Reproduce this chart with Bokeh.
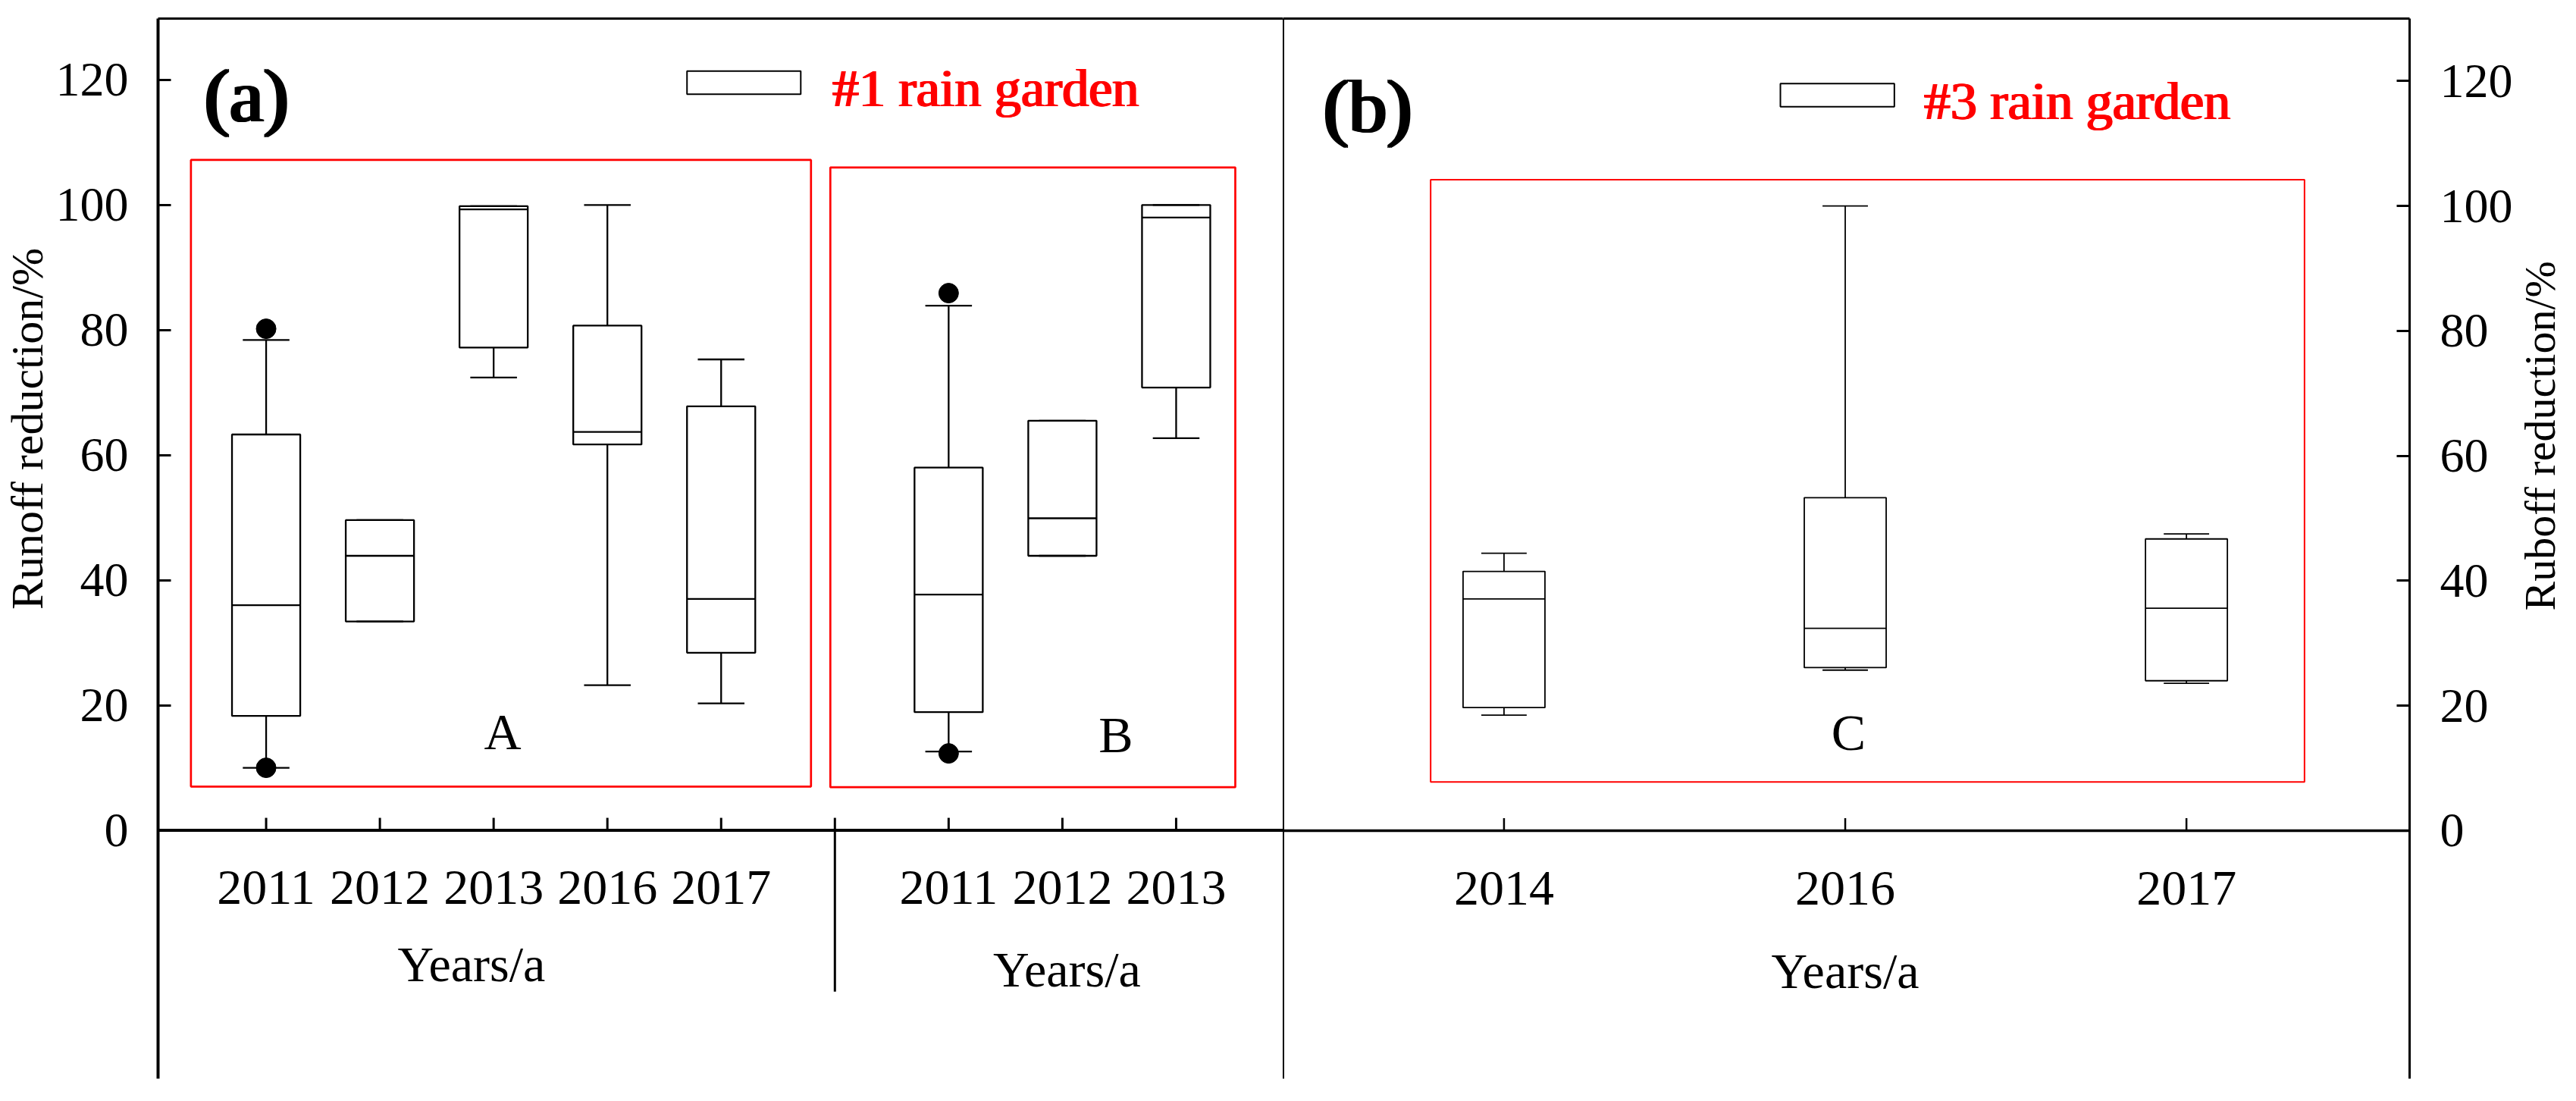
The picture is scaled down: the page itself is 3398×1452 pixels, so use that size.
import math
from bokeh.plotting import figure
from bokeh.layouts import row
from bokeh.models import LinearAxis, FixedTicker, Range1d, Span
from bokeh.core.properties import value
from bokeh.embed import file_html
from bokeh.resources import INLINE

SERIF = "Liberation Serif"

# ---------------- data ----------------
years_A = ["2011", "2012", "2013", "2016", "2017"]
pos_A = [1, 2, 3, 4, 5]
lowA = [10.0, 33.4, 72.4, 23.2, 20.3]
q1A = [18.3, 33.4, 77.2, 61.7, 28.4]
medA = [36.0, 43.9, 99.3, 63.7, 37.0]
q3A = [63.3, 49.6, 99.8, 80.7, 67.8]
upA = [78.4, 49.6, 99.8, 100.0, 75.3]
outA_x = [1, 1]
outA_y = [80.2, 10.0]

years_B = ["2011", "2012", "2013"]
pos_B = [7, 8, 9]
lowB = [12.6, 43.9, 62.7]
q1B = [18.9, 43.9, 70.8]
medB = [37.7, 49.9, 98.0]
q3B = [58.0, 65.5, 100.0]
upB = [83.9, 65.5, 100.0]
outB_x = [7, 7]
outB_y = [85.9, 12.3]

years_C = ["2014", "2016", "2017"]
pos_C = [1, 2, 3]
lowC = [18.5, 25.7, 23.6]
q1C = [19.7, 26.1, 24.0]
medC = [37.1, 32.4, 35.6]
q3C = [41.5, 53.3, 46.7]
upC = [44.4, 100.0, 47.5]

y_ticks = [0, 20, 40, 60, 80, 100, 120]


def frame_line_axis(width):
    return LinearAxis(ticker=FixedTicker(ticks=[-1000.0], minor_ticks=[-1000.0]),
                      major_tick_in=0, major_tick_out=0,
                      minor_tick_in=0, minor_tick_out=0, major_label_standoff=0,
                      axis_line_color="black", axis_line_width=width,
                      major_label_text_font_size="1px", major_label_text_color=None)


def value_axis(width, standoff):
    return LinearAxis(ticker=FixedTicker(ticks=y_ticks), major_tick_in=17, major_tick_out=0,
                      minor_tick_in=0, minor_tick_out=0, major_tick_line_width=3,
                      axis_line_width=width, major_label_standoff=standoff,
                      major_label_text_font=SERIF, major_label_text_font_size="64px",
                      major_label_text_color="black")


def draw_boxes(p, pos, low, q1, med, q3, up, bw, cw, lw):
    p.segment(x0=pos, y0=q3, x1=pos, y1=up, line_color="black", line_width=lw)
    p.segment(x0=pos, y0=low, x1=pos, y1=q1, line_color="black", line_width=lw)
    left = [x - bw / 2 for x in pos]
    right = [x + bw / 2 for x in pos]
    p.quad(left=left, right=right, bottom=q1, top=q3, fill_color="white",
           line_color="black", line_width=lw)
    p.segment(x0=left, y0=med, x1=right, y1=med, line_color="black", line_width=lw)
    cl = [x - cw / 2 for x in pos]
    cr = [x + cw / 2 for x in pos]
    p.segment(x0=cl, y0=up, x1=cr, y1=up, line_color="black", line_width=lw)
    p.segment(x0=cl, y0=low, x1=cr, y1=low, line_color="black", line_width=lw)


def heavy_text(p, x, y, txt, size, color, steps):
    # bold look built from slightly shifted copies
    n = len(steps)
    p.text(x=[x] * n, y=[y] * n, text=[txt] * n, x_offset=steps, text_align="left",
           text_baseline="alphabetic", text_font=value(SERIF), text_font_size=size,
           text_color=color)


def base_style(p):
    p.outline_line_color = None
    p.background_fill_color = "white"
    p.border_fill_color = "white"
    p.grid.visible = False


def label_strip(width, y_range, top, x_pos, y_pos, label, size):
    s = figure(width=width, height=1430, x_range=Range1d(0, width), y_range=y_range,
               x_axis_location=None, y_axis_location=None, toolbar_location=None,
               output_backend="svg", min_border_left=0, min_border_right=0,
               min_border_top=top, min_border_bottom=8)
    base_style(s)
    s.text(x=[x_pos], y=[y_pos], text=[label], angle=math.pi / 2, text_align="center",
           text_baseline="middle", text_font=value(SERIF), text_font_size=size,
           text_color="black")
    return s


# ---------------- y label strip (left) ----------------
p0 = label_strip(70, Range1d(-39.7, 129.8), 22, 35.5, 64.2, "Runoff reduction/%", "60px")

# ---------------- panel (a) ----------------
pa = figure(width=1622, height=1430, x_range=Range1d(0.05, 9.94), y_range=Range1d(-39.7, 129.8),
            x_axis_location=None, y_axis_location=None, toolbar_location=None,
            output_backend="svg", min_border_left=135, min_border_right=0,
            min_border_top=22, min_border_bottom=8)
base_style(pa)
pa.add_layout(frame_line_axis(3), "above")
pa.add_layout(value_axis(4, 39), "left")
pa.add_layout(Span(location=0, dimension="width", line_color="black", line_width=4))

all_pos_a = pos_A + [6] + pos_B
pa.segment(x0=all_pos_a, y0=[0] * len(all_pos_a), x1=all_pos_a, y1=[2.0] * len(all_pos_a),
           line_color="black", line_width=3)
pa.segment(x0=[6], y0=[0], x1=[6], y1=[-25.8], line_color="black", line_width=3)

# red group frames
pa.quad(left=[0.339, 5.96], right=[5.79, 9.52], bottom=[7.0, 6.9], top=[107.2, 106.0],
        fill_color=None, line_color="red", line_width=2.7)

draw_boxes(pa, pos_A, lowA, q1A, medA, q3A, upA, 0.6, 0.41, 2.3)
draw_boxes(pa, pos_B, lowB, q1B, medB, q3B, upB, 0.6, 0.41, 2.3)
pa.scatter(x=outA_x + outB_x, y=outA_y + outB_y, size=26, marker="circle",
           fill_color="black", line_color="black")

pa.text(x=pos_A + pos_B, y=[-9.2] * 8, text=years_A + years_B, text_align="center",
        text_baseline="alphabetic", text_font=value(SERIF), text_font_size="66px",
        text_color="black")
pa.text(x=[2.805, 8.04], y=[-21.4, -22.3], text=["Years/a", "Years/a"], text_align="center",
        text_baseline="alphabetic", text_font=value(SERIF), text_font_size="66px",
        text_color="black")
pa.text(x=[3.08, 8.47], y=[15.8, 15.3], text=["A", "B"], text_align="center",
        text_baseline="alphabetic", text_font=value(SERIF), text_font_size="68px",
        text_color="black")
pa.quad(left=[4.70], right=[5.70], bottom=[117.7], top=[121.4], fill_color="white",
        line_color="black", line_width=2)
heavy_text(pa, 0.443, 117.4, "(a)", "100px", "black", [0, 1.5, 3, 4.5])
heavy_text(pa, 5.97, 118.7, "#1 rain garden", "70px", "red", [0, 1.2, 2.4])

# ---------------- panel (b) ----------------
pb = figure(width=1625, height=1430, x_range=Range1d(0.3525, 3.654), y_range=Range1d(-39.7, 130.0),
            x_axis_location=None, y_axis_location=None, toolbar_location=None,
            output_backend="svg", min_border_left=0, min_border_right=136,
            min_border_top=24, min_border_bottom=8)
base_style(pb)
pb.add_layout(frame_line_axis(3), "above")
pb.add_layout(frame_line_axis(3), "left")
pb.add_layout(value_axis(3, 40), "right")
pb.add_layout(Span(location=0, dimension="width", line_color="black", line_width=3.5))
pb.segment(x0=pos_C, y0=[0] * 3, x1=pos_C, y1=[2.0] * 3, line_color="black", line_width=2.5)

pb.quad(left=[0.785], right=[3.346], bottom=[7.8], top=[104.2], fill_color=None,
        line_color="red", line_width=2)
draw_boxes(pb, pos_C, lowC, q1C, medC, q3C, upC, 0.24, 0.133, 1.8)

pb.text(x=pos_C, y=[-9.2] * 3, text=years_C, text_align="center", text_baseline="alphabetic",
        text_font=value(SERIF), text_font_size="66px", text_color="black")
pb.text(x=[2.0], y=[-22.5], text=["Years/a"], text_align="center", text_baseline="alphabetic",
        text_font=value(SERIF), text_font_size="66px", text_color="black")
pb.text(x=[2.01], y=[15.7], text=["C"], text_align="center", text_baseline="alphabetic",
        text_font=value(SERIF), text_font_size="68px", text_color="black")
pb.quad(left=[1.81], right=[2.144], bottom=[115.9], top=[119.6], fill_color="white",
        line_color="black", line_width=2)
heavy_text(pb, 0.466, 115.9, "(b)", "100px", "black", [0, 1.5, 3, 4.5])
heavy_text(pb, 2.228, 116.8, "#3 rain garden", "70px", "red", [0, 1.2, 2.4])

# ---------------- y label strip (right) ----------------
pc = label_strip(65, Range1d(-39.7, 130.0), 24, 32.5, 63.2, "Ruboff reduction/%", "58px")

layout = row(p0, pa, pb, pc)
open("out.html", "w").write(file_html(layout, INLINE))
